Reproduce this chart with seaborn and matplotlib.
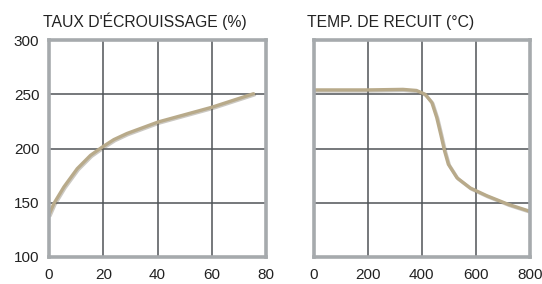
import matplotlib

matplotlib.use("Agg")
import matplotlib.patheffects as pe
import matplotlib.pyplot as plt
import pandas as pd
import seaborn as sns

# hardness vs cold work (%)
work_pct = [0, 1.8, 5.5, 10.4, 15.3, 19.6, 23.9, 28.7, 40.3, 60, 75.4]
work_hardness = [139, 149.3, 164.6, 181.4, 193.7, 201.3, 208.2, 213.8, 224.5, 238, 250.5]

# hardness vs annealing temperature (°C)
anneal_temp = [0, 200, 330, 380, 412, 437, 455, 470, 484, 498, 530, 579, 640, 720, 801]
anneal_hardness = [254, 254, 254.5, 253.5, 250, 242.4, 228.6, 213, 197.8, 185.5, 173, 163.6, 156.5, 148.5, 142]

LEFT_TITLE = "TAUX D'ÉCROUISSAGE (%)"
RIGHT_TITLE = "TEMP. DE RECUIT (°C)"

LINE_COLOR = "#b8aa8a"
SPINE_COLOR = "#a6aaad"
GRID_COLOR = "#4f5457"
TEXT_COLOR = "#222222"


def style_axes(ax, xlim, xticks, show_yticklabels):
    ax.set_xlim(*xlim)
    ax.set_ylim(100, 300)
    ax.set_xticks(xticks)
    ax.set_yticks([100, 150, 200, 250, 300])
    ax.grid(True, color=GRID_COLOR, linewidth=1.1)
    ax.set_axisbelow(True)
    for spine in ax.spines.values():
        spine.set_visible(True)
        spine.set_color(SPINE_COLOR)
        spine.set_linewidth(2.6)
    ax.tick_params(axis="x", length=0, pad=8, labelsize=11, labelcolor=TEXT_COLOR)
    ax.tick_params(axis="y", length=0, pad=7, labelsize=11, labelcolor=TEXT_COLOR)
    if not show_yticklabels:
        ax.set_yticklabels([])
    ax.set_xlabel("")
    ax.set_ylabel("")


def draw_curve(ax, x, y):
    df = pd.DataFrame({"x": x, "y": y})
    sns.lineplot(
        data=df,
        x="x",
        y="y",
        ax=ax,
        color=LINE_COLOR,
        linewidth=2.4,
        path_effects=[
            pe.SimpleLineShadow(offset=(0.8, -0.8), alpha=0.35, shadow_color="#6b6250"),
            pe.Normal(),
        ],
    )
    ax.lines[-1].set_solid_joinstyle("round")


def main() -> None:
    sns.set_style("white")
    plt.rcParams["font.family"] = ["Liberation Sans", "DejaVu Sans"]

    fig = plt.figure(figsize=(5.42, 2.84), dpi=100)
    ax_left = fig.add_axes([0.0904, 0.0951, 0.4004, 0.764])
    ax_right = fig.add_axes([0.5788, 0.0951, 0.399, 0.764])

    draw_curve(ax_left, work_pct, work_hardness)
    draw_curve(ax_right, anneal_temp, anneal_hardness)

    style_axes(ax_left, (0, 80), [0, 20, 40, 60, 80], True)
    style_axes(ax_right, (0, 800), [0, 200, 400, 600, 800], False)

    fig.text(43 / 542, 1 - 27 / 284, LEFT_TITLE, fontsize=11.3, color=TEXT_COLOR)
    fig.text(307 / 542, 1 - 27 / 284, RIGHT_TITLE, fontsize=11.3, color=TEXT_COLOR)

    fig.savefig("out.png", dpi=100)
    plt.close(fig)


if __name__ == "__main__":
    main()
